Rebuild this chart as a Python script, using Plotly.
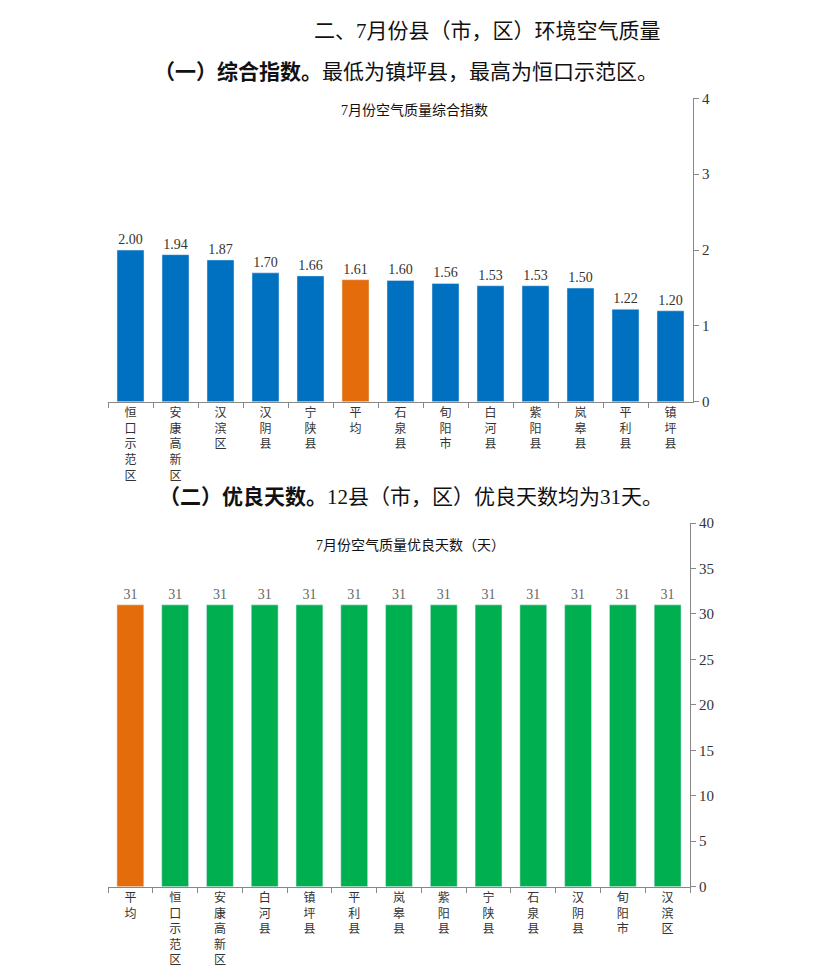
import plotly.graph_objects as go

# 综合指数（按图中从左到右的顺序）
zs_names = ['恒口示范区', '安康高新区', '汉滨区', '汉阴县', '宁陕县', '平均', '石泉县',
            '旬阳市', '白河县', '紫阳县', '岚皋县', '平利县', '镇坪县']
zs_values = [2.00, 1.94, 1.87, 1.70, 1.66, 1.61, 1.60, 1.56, 1.53, 1.53, 1.50, 1.22, 1.20]

# 优良天数
yl_names = ['平均', '恒口示范区', '安康高新区', '白河县', '镇坪县', '平利县', '岚皋县',
            '紫阳县', '宁陕县', '石泉县', '汉阴县', '旬阳市', '汉滨区']
yl_values = [31, 31, 31, 31, 31, 31, 31, 31, 31, 31, 31, 31, 31]

zs_ticks = [0, 1, 2, 3, 4]
yl_ticks = [0, 5, 10, 15, 20, 25, 30, 35, 40]

BLUE = '#0070C0'
GREEN = '#00B050'
ORANGE = '#E46C0A'
FONT = 'Liberation Serif, Noto Sans CJK SC'

W, H = 827, 977


def px(x):
    return x / W


def py(y):
    # 截图在竖直方向上略有压缩，这里按实测换算回去
    t = (y - 8.8) / 0.982
    return 1 - t / H


def vert(s):
    # 竖排标签
    return '<br>'.join(list(s))


fig = go.Figure()

fig.add_trace(go.Bar(
    x=[vert(n) for n in zs_names],
    y=zs_values,
    marker_color=[ORANGE if n == '平均' else BLUE for n in zs_names],
    text=[f'{v:.2f}' for v in zs_values],
    textposition='outside',
    textfont=dict(size=14, color='#333333', family=FONT),
    cliponaxis=False,
    xaxis='x', yaxis='y',
))

fig.add_trace(go.Bar(
    x=[vert(n) for n in yl_names],
    y=yl_values,
    marker_color=[ORANGE if n == '平均' else GREEN for n in yl_names],
    text=[str(v) for v in yl_values],
    textposition='outside',
    textfont=dict(size=14, color='#666666', family=FONT),
    cliponaxis=False,
    xaxis='x2', yaxis='y2',
))

axis_x = dict(
    type='category', showline=True, linecolor='#888888', linewidth=1,
    ticks='outside', tickson='boundaries', ticklen=5, tickcolor='#888888',
    showgrid=False, tickfont=dict(size=12, color='#333333', family=FONT),
    fixedrange=True,
)
axis_y = dict(
    side='right', showline=True, linecolor='#888888', linewidth=1,
    ticks='outside', ticklen=5, tickcolor='#888888', showgrid=False,
    zeroline=False, tickfont=dict(size=15, color='#333333', family=FONT),
)

fig.update_layout(
    width=W, height=H,
    margin=dict(l=0, r=0, t=0, b=0),
    paper_bgcolor='white', plot_bgcolor='white',
    showlegend=False,
    bargap=0.4,
    xaxis=dict(axis_x, domain=[px(108), px(693)], anchor='y'),
    yaxis=dict(axis_y, domain=[py(402), py(99)], range=[0, 4], tickvals=zs_ticks, anchor='x'),
    xaxis2=dict(axis_x, domain=[px(108), px(690)], anchor='y2'),
    yaxis2=dict(axis_y, domain=[py(886), py(523)], range=[0, 40], tickvals=yl_ticks, anchor='x2'),
)

# 标题文字
heads = [
    ('二、7月份县（市，区）环境空气质量', 487, 32, 21),
    ('<b>（一）综合指数。</b>最低为镇坪县，最高为恒口示范区。', 406, 73, 21),
    ('<b>（二）优良天数。</b>12县（市，区）优良天数均为31天。', 411, 497, 21),
    ('7月份空气质量综合指数', 414, 111, 14),
    ('7月份空气质量优良天数（天）', 410, 545, 14),
]
for txt, x, y, size in heads:
    fig.add_annotation(
        text=txt, x=px(x), y=py(y), xref='paper', yref='paper',
        showarrow=False, xanchor='center', yanchor='middle',
        font=dict(size=size, color='#111111', family=FONT),
    )

# 去掉页面默认边距，让图正好铺满窗口
fig.write_html('out.html', config={'displayModeBar': False},
               post_script="document.body.style.margin='0';")
